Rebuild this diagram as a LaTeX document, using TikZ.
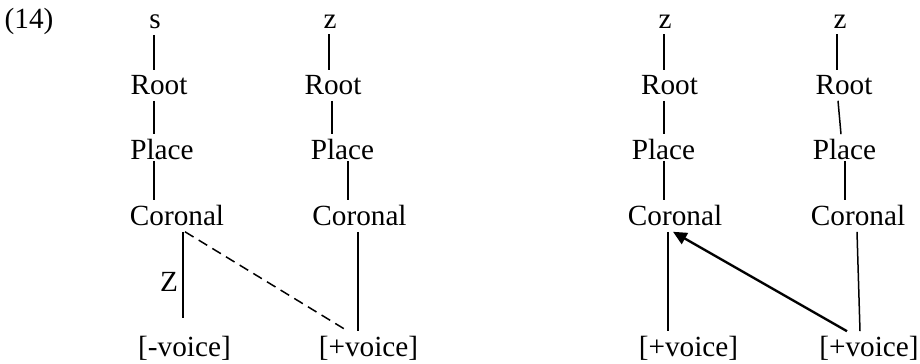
\documentclass[tikz,border=0pt]{standalone}
\usepackage{fontspec}
\setmainfont{Liberation Serif}
\usetikzlibrary{arrows.meta}

\begin{document}
\begin{tikzpicture}[x=0.4pt,y=-0.4pt,
	every node/.style={black,inner sep=2pt,anchor=base,font=\fontsize{11.7pt}{14pt}\selectfont},
	link/.style={line width=0.6pt},
	spread/.style={line width=0.6pt,dash pattern=on 4pt off 2.4pt},
	assim/.style={line width=0.95pt,-{Triangle[length=5.5pt,width=5pt]}}]
	\useasboundingbox (0,0) rectangle (920,364);
%	\node (    ) at (centre x, baseline y) {    };
	\node (num)  at (29,29)    {(14)};

	\node (s1)   at (155,29)   {s};
	\node (rt1)  at (159,95)   {Root};
	\node (pl1)  at (162,160)  {Place};
	\node (cor1) at (177,226)  {Coronal};
	\node (zz)   at (169,292)  {Z};
	\node (vm1)  at (184.5,357) {[-voice]};

	\node (z2)   at (330,29)   {z};
	\node (rt2)  at (333,95)   {Root};
	\node (pl2)  at (342.5,160) {Place};
	\node (cor2) at (359.5,226) {Coronal};
	\node (vp2)  at (368.5,357) {[+voice]};

	\node (z3)   at (665,29)   {z};
	\node (rt3)  at (669.5,95) {Root};
	\node (pl3)  at (663.5,160) {Place};
	\node (cor3) at (675,226)  {Coronal};
	\node (vp3)  at (688.5,357) {[+voice]};

	\node (z4)   at (840,29)   {z};
	\node (rt4)  at (844,95)   {Root};
	\node (pl4)  at (844.5,160) {Place};
	\node (cor4) at (858,226)  {Coronal};
	\node (vp4)  at (869,357)  {[+voice]};

	% s
	\draw[link] (s1.south -| 154,0) -- (rt1.north -| 154,0);
	\draw[link] (rt1.south -| 154,0) -- (pl1.north -| 154,0);
	\draw[link,shorten <=-2pt] (pl1.south -| 154,0) -- (cor1.north -| 154,0);
	\draw[link,shorten >=5.4pt] (cor1.south -| 183,0) -- (vm1.north -| 183,0);
	\draw[spread] (cor1.south -| 185,0) -- (vp2.north -| 348,0);
	% z
	\draw[link] (z2.south -| 329,0) -- (rt2.north -| 329,0);
	\draw[link] (rt2.south -| 332,0) -- (pl2.north -| 332,0);
	\draw[link,shorten <=-2pt] (pl2.south -| 348,0) -- (cor2.north -| 348,0);
	\draw[link] (cor2.south -| 358,0) -- (vp2.north -| 358,0);
	% z
	\draw[link] (z3.south -| 664,0) -- (rt3.north -| 664,0);
	\draw[link] (rt3.south -| 664,0) -- (pl3.north -| 664,0);
	\draw[link,shorten <=-2pt] (pl3.south -| 664,0) -- (cor3.north -| 664,0);
	\draw[link] (cor3.south -| 668,0) -- (vp3.north -| 668,0);
	% z
	\draw[link] (z4.south -| 837,0) -- (rt4.north -| 837,0);
	\draw[link] (rt4.south -| 838,0) -- (pl4.north -| 841,0);
	\draw[link,shorten <=-2pt] (pl4.south -| 845,0) -- (cor4.north -| 845,0);
	\draw[link] (cor4.south -| 857,0) -- (vp4.north -| 860,0);
	\draw[assim] (vp4.north -| 847,0) -- (cor3.south -| 673,0);
\end{tikzpicture}
\end{document}
